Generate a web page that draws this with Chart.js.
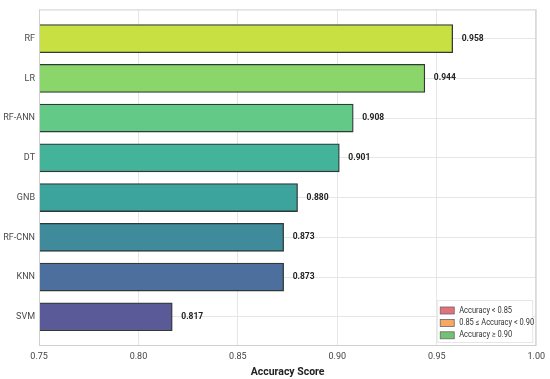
<!DOCTYPE html>
<html>
<head>
<meta charset="utf-8">
<script src="https://cdn.jsdelivr.net/npm/chart.js@4/dist/chart.umd.min.js"></script>
<style>
  html, body { margin: 0; padding: 0; background: #fff; }
  #wrap { width: 550px; height: 379px; }
</style>
</head>
<body>
<div id="wrap"><canvas id="chartContainer" width="550" height="379"></canvas></div>
<script>
// 1: data
const models = ['RF', 'LR', 'RF-ANN', 'DT', 'GNB', 'RF-CNN', 'KNN', 'SVM'];
const accuracy = [0.958, 0.944, 0.908, 0.901, 0.880, 0.873, 0.873, 0.817];
const barColors = ['#c9e043', '#8bd66b', '#63c986', '#43b49a', '#3ca49c', '#3f8b9c', '#4d6f9d', '#5b5a98'];
const xTicks = [0.75, 0.80, 0.85, 0.90, 0.95, 1.00];
const legendItems = ['Accuracy < 0.85', '0.85 \u2264 Accuracy < 0.90', 'Accuracy \u2265 0.90'];
const legendColors = ['#e2727c', '#f5a965', '#72c274'];

const FONT = 'Roboto, "Liberation Sans", Arial, sans-serif';

// 2: little helpers drawn on top of the chart
const valueLabels = {
  id: 'valueLabels',
  afterDatasetsDraw(chart) {
    const ctx = chart.ctx;
    const meta = chart.getDatasetMeta(0);
    ctx.save();
    ctx.font = 'bold 8.5px ' + FONT;
    ctx.fillStyle = '#222';
    ctx.textBaseline = 'middle';
    meta.data.forEach((bar, i) => {
      ctx.fillText(accuracy[i].toFixed(3), bar.x + 9, bar.y);
    });
    ctx.restore();
  }
};

const frameAndLegend = {
  id: 'frameAndLegend',
  afterDraw(chart) {
    const ctx = chart.ctx;
    const a = chart.chartArea;
    ctx.save();
    // frame round the plot
    ctx.strokeStyle = '#d0d0d0';
    ctx.lineWidth = 1;
    ctx.strokeRect(a.left + 0.5, a.top + 0.5, a.right - a.left - 1, a.bottom - a.top - 1);

    // legend in the lower right corner
    const lx = a.right - 99, ly = a.bottom - 46;
    ctx.fillStyle = 'rgba(255,255,255,0.85)';
    ctx.fillRect(lx, ly, 96, 43);
    ctx.strokeStyle = '#e6e6e6';
    ctx.strokeRect(lx + 0.5, ly + 0.5, 95, 42);
    ctx.font = '8.5px ' + FONT;
    ctx.textBaseline = 'middle';
    legendItems.forEach((txt, i) => {
      const y = ly + 10.5 + i * 12.4;
      ctx.fillStyle = legendColors[i];
      ctx.fillRect(lx + 3, y - 3.5, 14, 7);
      ctx.strokeStyle = '#666';
      ctx.lineWidth = 0.8;
      ctx.strokeRect(lx + 3, y - 3.5, 14, 7);
      ctx.fillStyle = '#333';
      // squeeze the text a little, the original font is narrow
      ctx.save();
      ctx.translate(lx + 22, y);
      ctx.scale(0.88, 1);
      ctx.fillText(txt, 0, 0);
      ctx.restore();
    });
    ctx.restore();
  }
};

// 3: create the chart
function appendChart() {
  const points = models.map((m, i) => ({ x: accuracy[i], y: i }));
  const chartContainer = document.getElementById('chartContainer');
  new Chart(chartContainer, {
    type: 'bar',
    data: {
      datasets: [{
        data: points,
        backgroundColor: barColors,
        borderColor: '#2f3a36',
        borderWidth: 1.3,
        borderSkipped: false,
        barThickness: 28
      }]
    },
    plugins: [valueLabels, frameAndLegend],
    options: {
      indexAxis: 'y',
      responsive: false,
      animation: false,
      layout: { padding: { top: 4, right: 11, left: 0, bottom: 0 } },
      plugins: {
        legend: { display: false },
        tooltip: { enabled: false }
      },
      scales: {
        x: {
          type: 'linear',
          min: 0.75,
          max: 1.00,
          afterBuildTicks: (scale) => { scale.ticks = xTicks.map(v => ({ value: v })); },
          afterFit: (scale) => { scale.height = 33; },
          grid: { color: '#e6e6e6', lineWidth: 1, drawTicks: false },
          border: { display: false },
          ticks: {
            padding: 5,
            color: '#444',
            font: { family: FONT, size: 9 },
            callback: (v) => v.toFixed(2)
          },
          title: {
            display: true,
            text: 'Accuracy Score',
            color: '#222',
            padding: { top: 2, bottom: 0 },
            font: { family: FONT, size: 10.5, weight: 'bold' }
          }
        },
        y: {
          type: 'linear',
          reverse: true,
          offset: false,
          min: -0.735,
          max: 7.735,
          afterBuildTicks: (scale) => { scale.ticks = models.map((m, i) => ({ value: i })); },
          afterFit: (scale) => { scale.width = 39; },
          grid: { color: '#e6e6e6', lineWidth: 1, drawTicks: false, offset: false },
          border: { display: false },
          ticks: {
            padding: 4,
            color: '#4a4a4a',
            font: { family: FONT, size: 9 },
            callback: (v) => models[v] || ''
          }
        }
      }
    }
  });
}

appendChart();
</script>
</body>
</html>
